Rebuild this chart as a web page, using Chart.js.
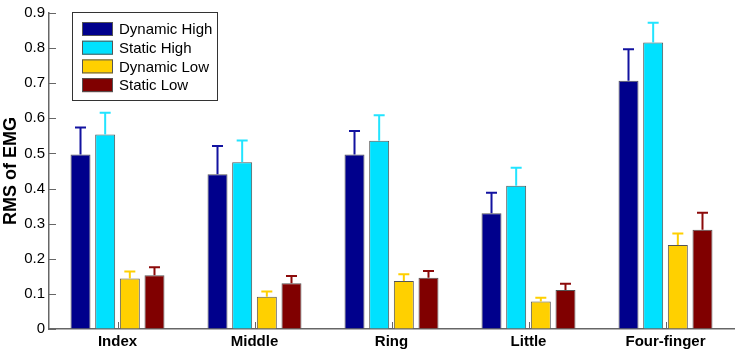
<!DOCTYPE html>
<html lang="en">
  <head>
    <meta charset="UTF-8" />
    <title>RMS of EMG</title>
    <script src="https://cdn.jsdelivr.net/npm/chart.js@4.4.0/dist/chart.umd.min.js"></script>
    <style>
      body { margin: 0; background: #fff; }
      #wrap { width: 737px; height: 353px; }
    </style>
  </head>
  <body>
    <div id="wrap"><canvas id="emgChart"></canvas></div>
    <script>
      const fingers = ["Index", "Middle", "Ring", "Little", "Four-finger"];
      const seriesNames = ["Dynamic High", "Static High", "Dynamic Low", "Static Low"];
      const dynamicHigh = [0.497, 0.441, 0.497, 0.330, 0.707];
      const staticHigh = [0.554, 0.475, 0.536, 0.408, 0.816];
      const dynamicLow = [0.144, 0.092, 0.137, 0.078, 0.239];
      const staticLow = [0.153, 0.130, 0.146, 0.111, 0.283];
      // upper end of each error bar
      const dynamicHighErr = [0.574, 0.521, 0.564, 0.388, 0.797];
      const staticHighErr = [0.616, 0.537, 0.609, 0.459, 0.872];
      const dynamicLowErr = [0.164, 0.107, 0.156, 0.089, 0.272];
      const staticLowErr = [0.176, 0.151, 0.165, 0.129, 0.331];
      const yTicks = [0, 0.1, 0.2, 0.3, 0.4, 0.5, 0.6, 0.7, 0.8, 0.9];

      const colors = ["#00008c", "#00e1ff", "#ffd000", "#800000"];
      const errColors = ["#1212a0", "#22e4ff", "#ffd000", "#8c0a0a"];
      const values = [dynamicHigh, staticHigh, dynamicLow, staticLow];
      const errTops = [dynamicHighErr, staticHighErr, dynamicLowErr, staticLowErr];
      const fontFam = "'Liberation Sans', Arial, sans-serif";

      const errorBars = {
        id: "errorBars",
        afterDatasetsDraw(chart) {
          const ctx = chart.ctx;
          const y = chart.scales.y;
          chart.data.datasets.forEach((ds, i) => {
            chart.getDatasetMeta(i).data.forEach((bar, j) => {
              const top = y.getPixelForValue(ds.errTop[j]);
              ctx.save();
              ctx.strokeStyle = ds.errColor;
              ctx.lineWidth = 2;
              ctx.beginPath();
              ctx.moveTo(bar.x, bar.y);
              ctx.lineTo(bar.x, top);
              ctx.moveTo(bar.x - 5.5, top);
              ctx.lineTo(bar.x + 5.5, top);
              ctx.stroke();
              ctx.restore();
            });
          });
        },
      };

      const innerTicks = {
        id: "innerTicks",
        afterDraw(chart) {
          const ctx = chart.ctx;
          const a = chart.chartArea;
          const y = chart.scales.y;
          const x = chart.scales.x;
          ctx.save();
          ctx.strokeStyle = "#666";
          ctx.lineWidth = 1;
          ctx.beginPath();
          y.ticks.forEach((t, i) => {
            const py = Math.round(y.getPixelForTick(i)) + 0.5;
            ctx.moveTo(a.left, py);
            ctx.lineTo(a.left + 7, py);
          });
          x.ticks.forEach((t, i) => {
            const px = Math.round(x.getPixelForTick(i)) + 0.5;
            ctx.moveTo(px, a.bottom);
            ctx.lineTo(px, a.bottom - 7);
          });
          ctx.stroke();

          // legend box
          const lx = a.left + 23, ly = a.top - 1;
          ctx.fillStyle = "#fff";
          ctx.fillRect(lx, ly, 145, 88);
          ctx.strokeStyle = "#333";
          ctx.strokeRect(lx + 0.5, ly + 0.5, 145, 88);
          ctx.font = "15px " + fontFam;
          ctx.textBaseline = "middle";
          chart.data.datasets.forEach((ds, i) => {
            const cy = ly + 17 + i * 18.7;
            ctx.fillStyle = ds.backgroundColor;
            ctx.fillRect(lx + 10, cy - 7, 31, 14);
            ctx.strokeStyle = "#555";
            ctx.strokeRect(lx + 10.5, cy - 6.5, 30, 13);
            ctx.fillStyle = "#000";
            ctx.fillText(ds.label, lx + 47, cy + 1);
          });
          ctx.restore();
        },
      };

      const datasets = seriesNames.map((name, i) => ({
        label: name,
        data: values[i],
        errTop: errTops[i],
        errColor: errColors[i],
        backgroundColor: colors[i],
        borderColor: "#555",
        borderWidth: 1,
        categoryPercentage: 0.72,
        barPercentage: 0.81,
      }));

      new Chart(document.getElementById("emgChart"), {
        type: "bar",
        data: { labels: fingers, datasets: datasets },
        options: {
          responsive: true,
          maintainAspectRatio: false,
          animation: false,
          layout: { padding: { top: 8, right: 3, left: 0, bottom: 0 } },
          plugins: { legend: { display: false }, tooltip: { enabled: false } },
          scales: {
            x: {
              grid: { display: false, drawTicks: false },
              border: { color: "#666", width: 1.5 },
              ticks: {
                color: "#000",
                padding: 4,
                font: { family: fontFam, size: 15, weight: "bold" },
              },
              afterFit(s) { s.height = 24; },
            },
            y: {
              min: 0,
              max: 0.9,
              afterBuildTicks(s) { s.ticks = yTicks.map((v) => ({ value: v })); },
              grid: { drawOnChartArea: false, drawTicks: false },
              border: { color: "#666", width: 1.5 },
              ticks: {
                color: "#000",
                padding: 4,
                font: { family: fontFam, size: 15 },
                callback: (v) => String(Math.round(v * 10) / 10),
              },
              title: {
                display: true,
                text: "RMS of EMG",
                color: "#000",
                padding: { top: 0, bottom: 0 },
                font: { family: fontFam, size: 18, weight: "bold" },
              },
              afterFit(s) { s.width = 49; },
            },
          },
        },
        plugins: [errorBars, innerTicks],
      });
    </script>
  </body>
</html>
